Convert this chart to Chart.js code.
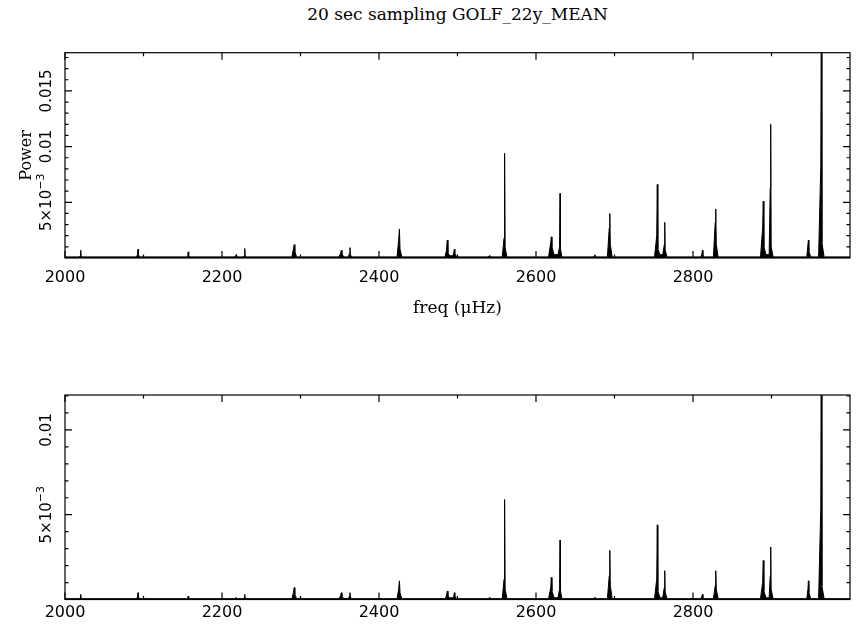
<!DOCTYPE html>
<html>
<head>
<meta charset="utf-8">
<script src="https://cdn.jsdelivr.net/npm/chart.js@4"></script>
<style>
  body { margin: 0; background: #fff; }
  #wrap { position: relative; width: 859px; height: 625px; }
  canvas { position: absolute; left: 0; }
  #title { position: absolute; left: 65px; width: 785px; top: 4px; text-align: center;
           font: 17px "DejaVu Serif"; line-height: 20px; color: #000; }
</style>
</head>
<body>
<div id="wrap">
  <div id="title">20 sec sampling GOLF_22y_MEAN</div>
  <canvas id="topChart" width="859" height="330" style="top:0"></canvas>
  <canvas id="bottomChart" width="859" height="285" style="top:340px"></canvas>
</div>
<script>
// spectrum samples (uHz)
const freq = [
  2000,
  2018, 2019.4, 2020, 2020.6, 2022,
  2091, 2092.4, 2093, 2093.6, 2095,
  2155, 2156.4, 2157, 2157.6, 2159,
  2216, 2217.4, 2218, 2218.6, 2220,
  2227, 2228.4, 2229, 2229.6, 2231,
  2289, 2291, 2292, 2292.8, 2295,
  2349, 2351, 2352, 2352.8, 2355,
  2361, 2362.4, 2363, 2363.6, 2365,
  2423, 2425, 2426, 2426.8, 2429,
  2484, 2486, 2487, 2487.8, 2490,
  2494, 2495.4, 2496, 2496.6, 2499,
  2539, 2540.4, 2541, 2541.6, 2543,
  2557, 2559.3, 2560, 2560.7, 2563,
  2616, 2618.8, 2619.5, 2620.3, 2623,
  2628, 2630, 2630.6, 2631.2, 2633,
  2673, 2674.4, 2675, 2675.6, 2677,
  2691, 2693.3, 2694, 2694.7, 2697,
  2751, 2753.8, 2754.5, 2755.2, 2758,
  2761.5, 2763.4, 2764, 2764.6, 2767,
  2810, 2811.4, 2812, 2812.6, 2814,
  2826, 2828.3, 2829, 2829.7, 2832,
  2886, 2888.7, 2889.5, 2890.3, 2893,
  2897, 2898.4, 2899, 2899.6, 2902,
  2945, 2946.4, 2947, 2947.6, 2950,
  2960, 2962.8, 2963.5, 2964.2, 2967,
  3000
];

const topPower = [
  0.0001,
  0.0001, 0.0002, 0.0007, 0.0002, 0.0001,
  0.0001, 0.0003, 0.0008, 0.0003, 0.0001,
  0.0001, 0.0002, 0.00055, 0.0002, 0.0001,
  0.0001, 0.0002, 0.0003, 0.0002, 0.0001,
  0.0001, 0.0002, 0.00085, 0.0002, 0.0001,
  0.0001, 0.0008, 0.0012, 0.0006, 0.0001,
  0.0001, 0.0004, 0.0007, 0.0004, 0.0001,
  0.0001, 0.0004, 0.00093, 0.0003, 0.0001,
  0.0001, 0.0016, 0.0026, 0.0008, 0.0001,
  0.0001, 0.0007, 0.0016, 0.0005, 0.0002,
  0.0002, 0.0005, 0.0008, 0.0004, 0.0001,
  0.0001, 0.0002, 0.0002, 0.0002, 0.0001,
  0.0001, 0.0018, 0.0094, 0.0009, 0.0001,
  0.0001, 0.0014, 0.0019, 0.0010, 0.0003,
  0.0003, 0.0010, 0.0058, 0.0008, 0.0001,
  0.0001, 0.0002, 0.0003, 0.0002, 0.0001,
  0.0001, 0.0027, 0.0040, 0.0012, 0.0001,
  0.0001, 0.0020, 0.0066, 0.0008, 0.0003,
  0.0003, 0.0012, 0.0032, 0.0007, 0.0001,
  0.0001, 0.0004, 0.0007, 0.0003, 0.0001,
  0.0001, 0.0032, 0.0044, 0.0012, 0.0001,
  0.0001, 0.0027, 0.0051, 0.0010, 0.0003,
  0.0003, 0.0063, 0.0120, 0.0010, 0.0001,
  0.0001, 0.0012, 0.0016, 0.0006, 0.0001,
  0.0001, 0.0083, 0.0250, 0.0014, 0.0001,
  0.0001
];

const bottomPower = [
  0.00005,
  0.00005, 0.0001, 0.0003, 0.0001, 0.00005,
  0.00005, 0.00015, 0.0004, 0.00015, 0.00005,
  0.00005, 0.0001, 0.0002, 0.0001, 0.00005,
  0.00005, 0.0001, 0.0001, 0.0001, 0.00005,
  0.00005, 0.0001, 0.0003, 0.0001, 0.00005,
  0.00005, 0.0004, 0.0007, 0.0003, 0.00005,
  0.00005, 0.0002, 0.0004, 0.0002, 0.00005,
  0.00005, 0.0002, 0.0004, 0.00015, 0.00005,
  0.00005, 0.0006, 0.0011, 0.0004, 0.00005,
  0.00005, 0.0002, 0.0005, 0.0002, 0.0001,
  0.0001, 0.0002, 0.0004, 0.0002, 0.00005,
  0.00005, 0.0001, 0.0001, 0.0001, 0.00005,
  0.00005, 0.0012, 0.0059, 0.0006, 0.00005,
  0.00005, 0.0007, 0.0013, 0.0005, 0.0001,
  0.0001, 0.0006, 0.0035, 0.0005, 0.00005,
  0.00005, 0.0001, 0.0001, 0.0001, 0.00005,
  0.00005, 0.0014, 0.0029, 0.0008, 0.00005,
  0.00005, 0.0012, 0.0044, 0.0005, 0.0001,
  0.0001, 0.0007, 0.0017, 0.0004, 0.00005,
  0.00005, 0.0002, 0.0003, 0.0001, 0.00005,
  0.00005, 0.0008, 0.0017, 0.0006, 0.00005,
  0.00005, 0.0010, 0.0023, 0.0005, 0.0001,
  0.0001, 0.0014, 0.0031, 0.0006, 0.00005,
  0.00005, 0.0006, 0.0011, 0.0004, 0.00005,
  0.00005, 0.0054, 0.0200, 0.0008, 0.00005,
  0.00005
];

// axis ticks
const xMajorTicks = [2000, 2200, 2400, 2600, 2800];
const xMinorTicks = [2100, 2300, 2500, 2700, 2900];
const topYTicks = [0.005, 0.01, 0.015];
const topYLabels = ['5×10^−3', '0.01', '0.015'];
const bottomYTicks = [0.005, 0.01];
const bottomYLabels = ['5×10^−3', '0.01'];

// pgplot-like box: frame, inward ticks, rotated y labels
const pgFrame = {
  id: 'pgFrame',
  afterDatasetsDraw(chart, args, opts) {
    const { ctx, chartArea: a, scales: { x, y } } = chart;
    ctx.save();
    ctx.strokeStyle = '#000';
    ctx.lineWidth = 1.2;
    ctx.strokeRect(a.left, a.top, a.right - a.left, a.bottom - a.top);

    ctx.beginPath();
    const xt = (v, len) => {
      const px = x.getPixelForValue(v);
      ctx.moveTo(px, a.bottom); ctx.lineTo(px, a.bottom - len);
      ctx.moveTo(px, a.top); ctx.lineTo(px, a.top + len);
    };
    const yt = (v, len) => {
      const py = y.getPixelForValue(v);
      ctx.moveTo(a.left, py); ctx.lineTo(a.left + len, py);
      ctx.moveTo(a.right, py); ctx.lineTo(a.right - len, py);
    };
    xMajorTicks.forEach(v => xt(v, 7));
    xMinorTicks.forEach(v => xt(v, 3.5));
    for (let i = 1; i * 0.001 < y.max; i++) yt(i * 0.001, i % 5 === 0 ? 7 : 3.5);
    ctx.stroke();

    ctx.fillStyle = '#000';
    ctx.textBaseline = 'middle';
    ctx.textAlign = 'left';
    opts.ticks.forEach((v, i) => {
      const [base, sup] = opts.labels[i].split('^');
      ctx.save();
      ctx.translate(47, y.getPixelForValue(v));
      ctx.rotate(-Math.PI / 2);
      ctx.font = '15px "DejaVu Sans"';
      const bw = ctx.measureText(base).width;
      let sw = 0;
      if (sup) { ctx.font = '11px "DejaVu Sans"'; sw = ctx.measureText(sup).width; }
      const x0 = -(bw + sw) / 2;
      ctx.font = '15px "DejaVu Sans"';
      ctx.fillText(base, x0, 0);
      if (sup) { ctx.font = '11px "DejaVu Sans"'; ctx.fillText(sup, x0 + bw, -6); }
      ctx.restore();
    });
    ctx.restore();
  }
};

function makeChart(id, power, yMax, yTicks, yLabels, padTop, xHeight, labelPad, showTitles) {
  return new Chart(document.getElementById(id), {
    type: 'line',
    data: {
      datasets: [{
        data: freq.map((f, i) => ({ x: f, y: power[i] })),
        borderColor: '#000',
        backgroundColor: '#000',
        borderWidth: 1,
        fill: 'origin',
        pointRadius: 0,
        tension: 0
      }]
    },
    options: {
      responsive: false,
      animation: false,
      layout: { padding: { top: padTop, right: 9, left: 0, bottom: 0 } },
      plugins: {
        legend: { display: false },
        tooltip: { enabled: false },
        pgFrame: { ticks: yTicks, labels: yLabels }
      },
      scales: {
        x: {
          type: 'linear',
          min: 2000,
          max: 3000,
          grid: { display: false, drawTicks: false },
          border: { display: false },
          afterBuildTicks: s => { s.ticks = xMajorTicks.map(v => ({ value: v })); },
          ticks: {
            autoSkip: false,
            maxRotation: 0,
            padding: labelPad,
            color: '#000',
            font: { family: 'DejaVu Sans', size: 16 },
            callback: v => String(v)
          },
          title: {
            display: showTitles,
            text: 'freq (μHz)',
            color: '#000',
            font: { family: 'DejaVu Serif', size: 17 },
            padding: { top: 0, bottom: 10.8 }
          },
          afterFit: s => { s.height = xHeight; }
        },
        y: {
          min: 0,
          max: yMax,
          grid: { display: false },
          border: { display: false },
          ticks: { display: false },
          title: {
            display: showTitles,
            text: 'Power',
            color: '#000',
            font: { family: 'DejaVu Serif', size: 16 },
            padding: { top: 17, bottom: 0 }
          },
          afterFit: s => { s.width = 65; }
        }
      }
    },
    plugins: [pgFrame]
  });
}

makeChart('topChart', topPower, 0.01843, topYTicks, topYLabels, 52.7, 72, 10, true);
makeChart('bottomChart', bottomPower, 0.01206, bottomYTicks, bottomYLabels, 55, 25.5, 4, false);
</script>
</body>
</html>
